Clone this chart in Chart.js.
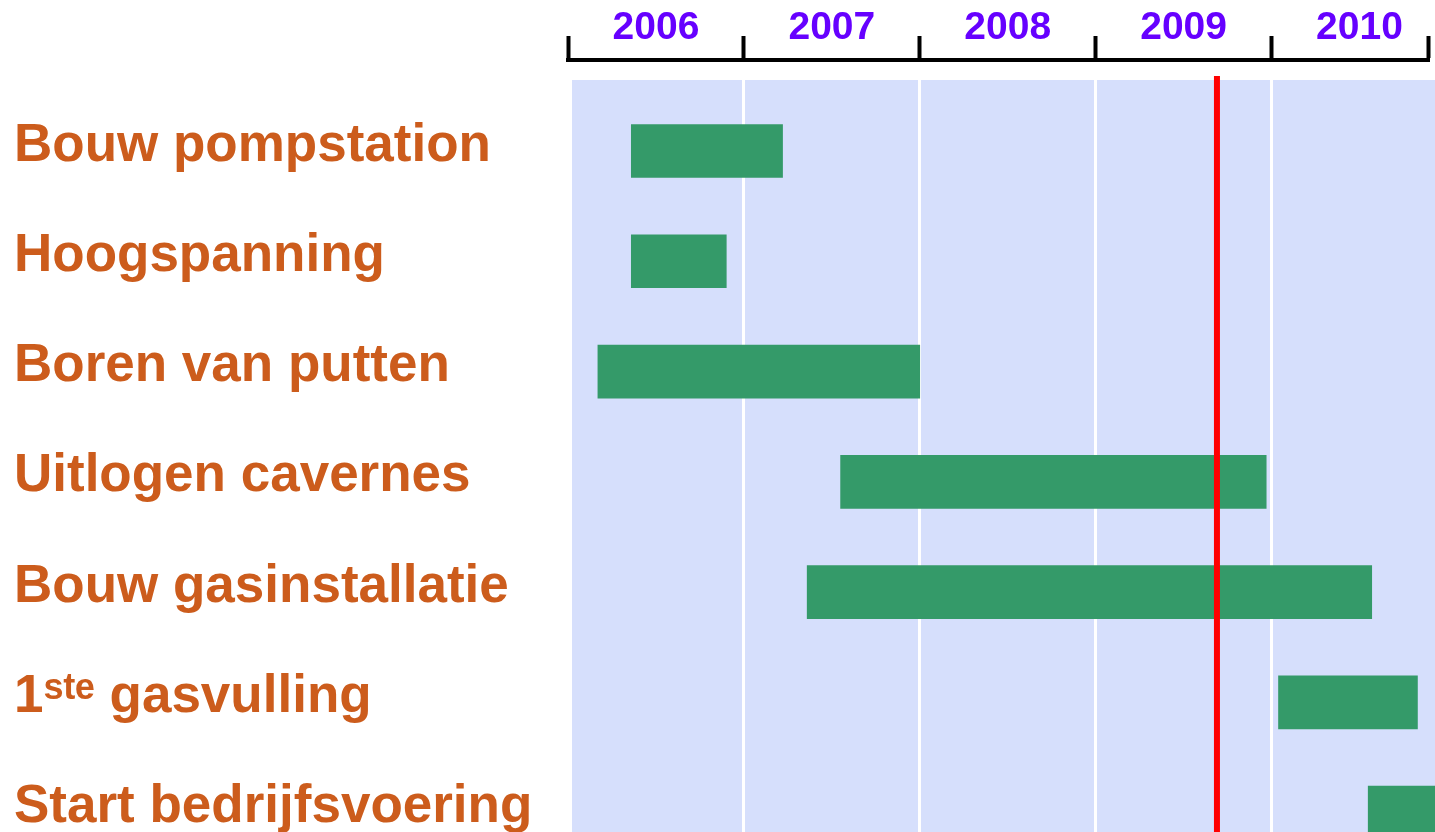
<!DOCTYPE html>
<html>
<head>
<meta charset="utf-8">
<script src="https://cdn.jsdelivr.net/npm/chart.js@4/dist/chart.umd.min.js"></script>
<style>
  html, body { margin: 0; padding: 0; background: #ffffff; }
  #wrap { width: 1435px; height: 832px; }
</style>
</head>
<body>
<div id="wrap"><canvas id="gantt"></canvas></div>
<script>
// data
const tasks = ['Bouw pompstation', 'Hoogspanning', 'Boren van putten', 'Uitlogen cavernes',
               'Bouw gasinstallatie', '1\u02e2\u1d57\u1d49 gasvulling', 'Start bedrijfsvoering'];
const taskStart = [2006.36, 2006.36, 2006.17, 2007.55, 2007.36, 2010.04, 2010.55];
const taskEnd   = [2007.22, 2006.90, 2008.00, 2009.97, 2010.57, 2010.83, 2011.00];
const yearTicks = [2006, 2007, 2008, 2009, 2010];
const yearLabels = ['2006', '2007', '2008', '2009', '2010'];
const axisStart = 2006;
const axisEnd = 2010.89;
const todayMark = 2009.69;

const FONT = '"Liberation Sans", Arial, Helvetica, sans-serif';

// blauwe achtergrond + rode "vandaag" lijn
const ganttDecor = {
    id: 'ganttDecor',
    beforeDraw(chart) {
        const { ctx, chartArea: a } = chart;
        ctx.save();
        ctx.fillStyle = '#d6dffc';
        ctx.fillRect(a.left + 4, a.top + 20, chart.width - a.left - 4, a.bottom - a.top - 20);
        ctx.restore();
    },
    afterDatasetsDraw(chart) {
        const { ctx, chartArea: a } = chart;
        const x = chart.scales.x.getPixelForValue(todayMark);
        ctx.save();
        ctx.strokeStyle = '#ff0000';
        ctx.lineWidth = 6;
        ctx.beginPath();
        ctx.moveTo(x, a.top + 16);
        ctx.lineTo(x, a.bottom);
        ctx.stroke();
        ctx.restore();
    }
};

const ctx = document.getElementById('gantt').getContext('2d');
new Chart(ctx, {
    type: 'bar',
    data: {
        datasets: [{
            data: tasks.map((t, i) => ({ x: [taskStart[i], taskEnd[i]], y: i })),
            backgroundColor: '#349a69',
            borderWidth: 0,
            borderSkipped: false,
            barThickness: 53,
            clip: false
        }]
    },
    options: {
        indexAxis: 'y',
        responsive: true,
        maintainAspectRatio: false,
        animation: false,
        layout: { padding: { left: 14, right: 7, top: 0, bottom: 0 } },
        plugins: {
            legend: { display: false },
            tooltip: { enabled: false }
        },
        scales: {
            x: {
                type: 'linear',
                position: 'top',
                min: axisStart,
                max: axisEnd,
                afterBuildTicks: (s) => {
                    s.ticks = yearTicks.concat([axisEnd]).map(v => ({ value: v }));
                },
                afterFit: (s) => {
                    s.height = 60;
                    s.paddingLeft = 0;
                    s.paddingRight = 0;
                },
                grid: {
                    color: (c) => (c.tick && yearTicks.includes(c.tick.value)) ? '#ffffff' : 'rgba(0,0,0,0)',
                    lineWidth: 3,
                    drawTicks: true,
                    tickLength: 24,
                    tickWidth: 4,
                    tickColor: '#000000'
                },
                border: { display: true, color: '#000000', width: 4 },
                ticks: {
                    autoSkip: false,
                    maxRotation: 0,
                    labelOffset: 88,
                    padding: -16,
                    color: '#6600ff',
                    font: { family: FONT, size: 39, weight: 'bold' },
                    callback: (v) => {
                        const i = yearTicks.indexOf(v);
                        return i >= 0 ? yearLabels[i] : '';
                    }
                }
            },
            y: {
                type: 'linear',
                reverse: true,
                offset: false,
                min: -0.825,
                max: 6.175,
                afterBuildTicks: (s) => {
                    s.ticks = tasks.map((t, i) => ({ value: i }));
                },
                afterFit: (s) => {
                    s.width = 554;
                    s.paddingTop = 0;
                    s.paddingBottom = 0;
                },
                grid: { display: false },
                border: { display: false },
                ticks: {
                    autoSkip: false,
                    crossAlign: 'far',
                    labelOffset: -5,
                    color: '#cc5c1c',
                    font: { family: FONT, size: 53, weight: 'bold' },
                    callback: (v) => tasks[v] ?? ''
                }
            }
        }
    },
    plugins: [ganttDecor]
});
</script>
</body>
</html>
